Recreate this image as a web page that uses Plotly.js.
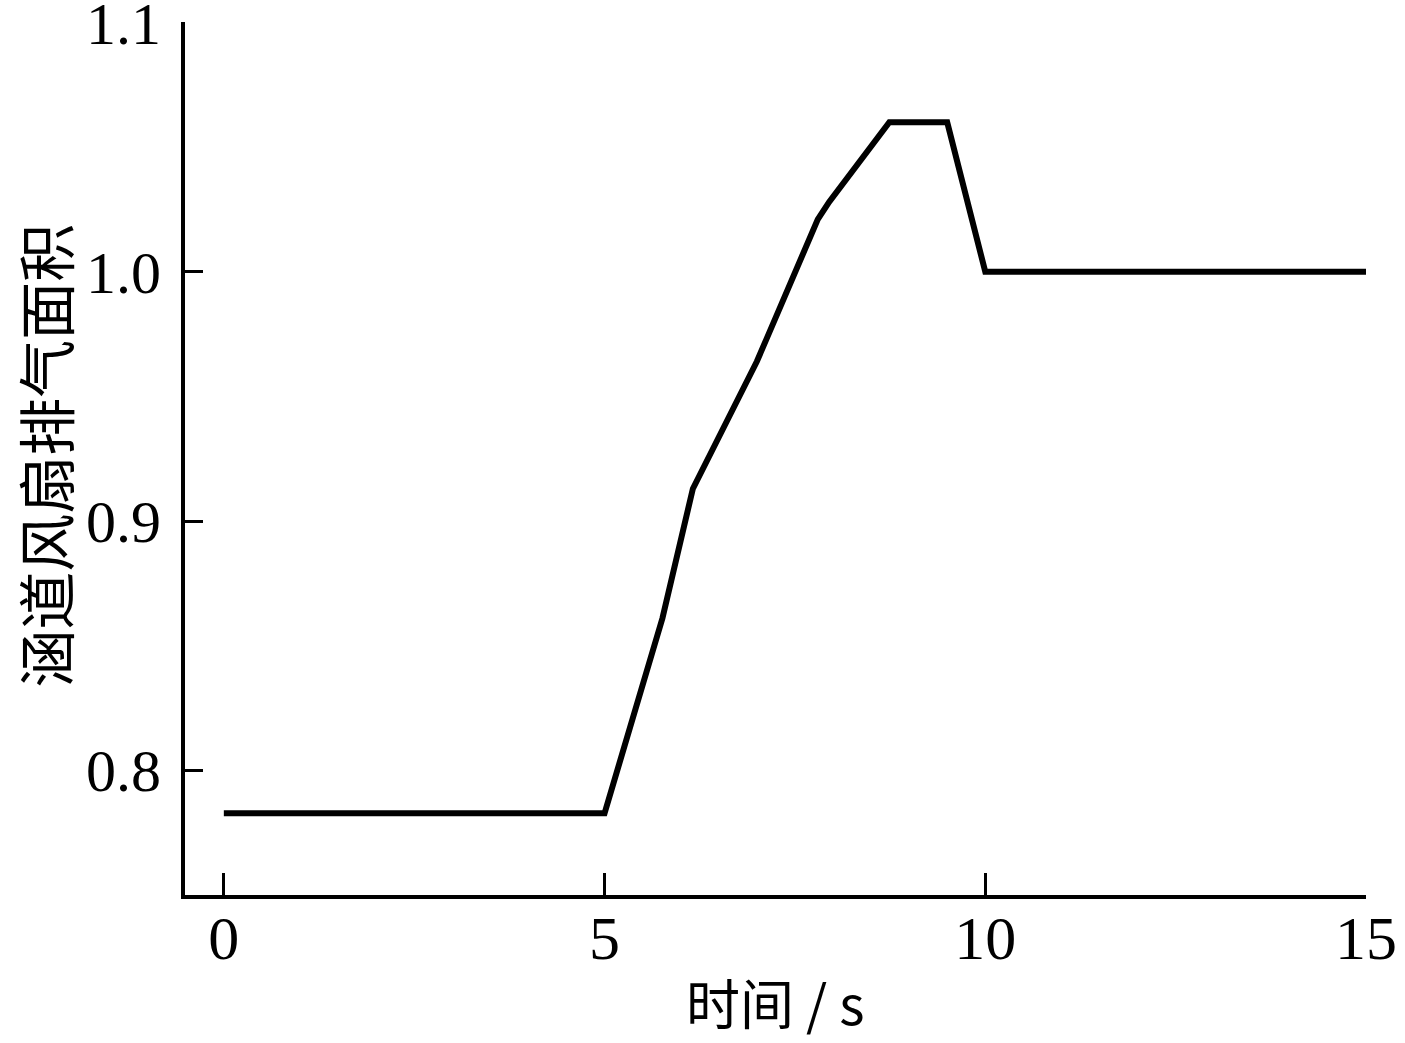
<!DOCTYPE html>
<html>
<head>
<meta charset="utf-8">
<script src="https://cdn.plot.ly/plotly-3.0.1.min.js"></script>
<style>html,body{margin:0;padding:0;background:#fff;}#chart{width:1405px;height:1043px;}</style>
</head>
<body>
<div id="chart"></div>
<script>
const timeS = [0, 5.0, 5.76, 6.16, 7.0, 7.8, 7.95, 8.74, 9.5, 10.0, 15.0];
const exhaustArea = [0.7828, 0.7828, 0.861, 0.913, 0.964, 1.021, 1.028, 1.06, 1.06, 1.0, 1.0];
const xTicks = [0, 5, 10, 15];
const yTicks = [0.8, 0.9, 1.0, 1.1];
const yTickText = ['0.8', '0.9', '1.0', '1.1'];
const xTitle = '时间 / s';
const yTitle = '涵道风扇排气面积';

const trace = {
  x: timeS, y: exhaustArea, type: 'scatter', mode: 'lines',
  line: {color: '#000', width: 6}, hoverinfo: 'none'
};
const fontFam = '"Liberation Serif", "Noto Sans CJK SC", serif';
const cjkFam = '"Noto Sans CJK SC", "Liberation Serif", sans-serif';
const layout = {
  width: 1405, height: 1043,
  margin: {l: 185, r: 39, t: 22, b: 148},
  paper_bgcolor: '#fff', plot_bgcolor: '#fff',
  showlegend: false,
  font: {family: fontFam, color: '#000'},
  xaxis: {
    range: [-0.51, 15], tickvals: xTicks, ticktext: xTicks.map(String),
    ticks: 'inside', ticklen: 22, tickwidth: 3, tickcolor: '#000',
    showline: true, linewidth: 4, linecolor: '#000', showgrid: false, zeroline: false,
    tickfont: {family: fontFam, size: 62, color: '#000'},
    ticklabelstandoff: -14, ticklabeloverflow: 'allow',
    automargin: false
  },
  yaxis: {
    range: [0.75, 1.1002], tickvals: yTicks, ticktext: yTickText,
    ticks: 'inside', ticklen: 18, tickwidth: 3, tickcolor: '#000',
    showline: true, linewidth: 4, linecolor: '#000', showgrid: false, zeroline: false,
    tickfont: {family: fontFam, size: 60, color: '#000'},
    ticklabelstandoff: 8, ticklabeloverflow: 'allow',
    automargin: false
  },
  annotations: [
    {text: xTitle, xref: 'paper', yref: 'paper', x: 0.5004, y: -0.122,
     xanchor: 'center', yanchor: 'middle', showarrow: false, borderpad: 0,
     font: {family: cjkFam, size: 54, color: '#000'}},
    {text: yTitle, xref: 'paper', yref: 'paper', x: -0.1195, y: 0.503,
     xanchor: 'center', yanchor: 'middle', showarrow: false, textangle: -90, borderpad: 0,
     font: {family: cjkFam, size: 58, color: '#000'}}
  ]
};
Plotly.newPlot('chart', [trace], layout, {staticPlot: true, displayModeBar: false});
</script>
</body>
</html>
